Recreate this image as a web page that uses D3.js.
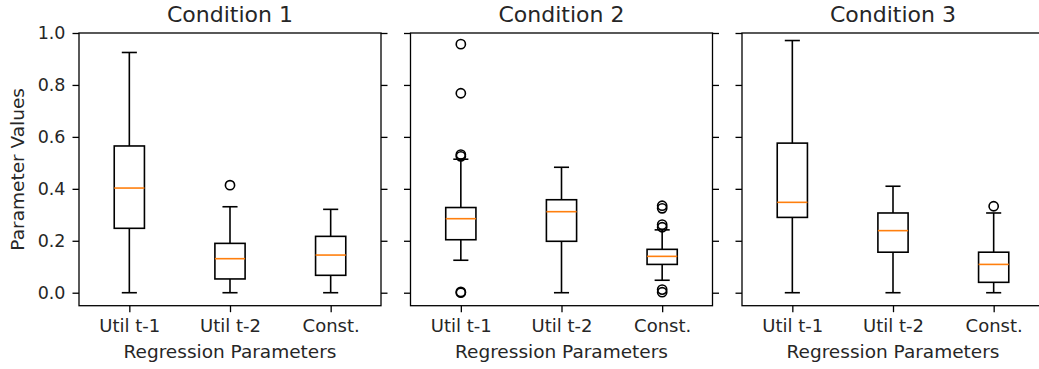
<!DOCTYPE html>
<html>
<head>
<meta charset="utf-8">
<script src="https://cdn.jsdelivr.net/npm/d3@7"></script>
<style>
  body { margin: 0; background: #fff; }
  text { font-family: "DejaVu Sans", sans-serif; fill: #262626; }
</style>
</head>
<body>
<script>
// data
var conditions = ["Condition 1", "Condition 2", "Condition 3"];
var params = ["Util t-1", "Util t-2", "Const."];
var yTicks = [0.0, 0.2, 0.4, 0.6, 0.8, 1.0];

// one row per condition, one entry per parameter
var whiskLow = [[0.0, 0.0, 0.0], [0.125, 0.0, 0.048], [0.0, 0.0, 0.0]];
var q1       = [[0.248, 0.053, 0.067], [0.204, 0.198, 0.109], [0.29, 0.156, 0.040]];
var median   = [[0.403, 0.131, 0.145], [0.285, 0.312, 0.140], [0.348, 0.239, 0.109]];
var q3       = [[0.565, 0.19, 0.217], [0.328, 0.358, 0.167], [0.576, 0.307, 0.156]];
var whiskHigh= [[0.925, 0.331, 0.321], [0.514, 0.483, 0.242], [0.971, 0.41, 0.307]];
var outliers = [
  [[], [0.414], []],
  [[0.957, 0.768, 0.532, 0.525, 0.003, 0.0], [], [0.335, 0.325, 0.262, 0.252, 0.012, 0.002]],
  [[], [], [0.333]]
];

var W = 1039, H = 369;
var chart = { left: 79, top: 33, pw: 302, ph: 272.7, gap: 29.5 };

var svg = d3.select("body")
            .append("svg")
            .attr("width", W)
            .attr("height", H);

var y = d3.scaleLinear()
          .domain([-0.05, 1.0])
          .range([chart.top + chart.ph, chart.top]);

var x = d3.scalePoint()
          .domain(params)
          .range([0, chart.pw])
          .padding(0.5);

var boxW = x.step() * 0.3;

conditions.forEach(function(cond, ci) {
  var g = svg.append("g")
             .attr("transform", "translate(" + (chart.left + ci * (chart.pw + chart.gap)) + ",0)");

  // left / right ticks
  g.append("g")
   .call(d3.axisLeft(y).tickValues(yTicks).tickSize(6.5).tickPadding(7)
          .tickFormat(ci == 0 ? d3.format(".1f") : ""))
   .call(function(a) {
     a.select(".domain").remove();
     a.selectAll("line").attr("stroke-width", 1.3);
     a.selectAll("text").style("font-size", "17.5px").attr("fill", "#262626");
   });
  g.append("g")
   .attr("transform", "translate(" + chart.pw + ",0)")
   .call(d3.axisRight(y).tickValues(yTicks).tickSize(6.5).tickFormat(""))
   .call(function(a) {
     a.select(".domain").remove();
     a.selectAll("line").attr("stroke-width", 1.3);
   });

  g.append("g")
   .attr("transform", "translate(0," + (chart.top + chart.ph) + ")")
   .call(d3.axisBottom(x).tickSize(6.5).tickPadding(7))
   .call(function(a) {
     a.select(".domain").remove();
     a.selectAll("line").attr("stroke-width", 1.3);
     a.selectAll("text").style("font-size", "18px").attr("fill", "#262626");
   });

  // frame
  g.append("rect")
   .attr("x", 0).attr("y", chart.top)
   .attr("width", chart.pw).attr("height", chart.ph)
   .attr("fill", "none")
   .attr("stroke", "black")
   .attr("stroke-width", 1.3);

  params.forEach(function(p, pi) {
    var cx = x(p);
    var b = g.append("g").attr("stroke", "black").attr("stroke-width", 1.6).attr("fill", "none");

    // whiskers
    b.append("line").attr("x1", cx).attr("x2", cx)
     .attr("y1", y(whiskLow[ci][pi])).attr("y2", y(q1[ci][pi]));
    b.append("line").attr("x1", cx).attr("x2", cx)
     .attr("y1", y(q3[ci][pi])).attr("y2", y(whiskHigh[ci][pi]));
    // caps
    [whiskLow[ci][pi], whiskHigh[ci][pi]].forEach(function(v) {
      b.append("line").attr("x1", cx - boxW / 4).attr("x2", cx + boxW / 4)
       .attr("y1", y(v)).attr("y2", y(v));
    });
    // box
    b.append("rect")
     .attr("x", cx - boxW / 2).attr("y", y(q3[ci][pi]))
     .attr("width", boxW).attr("height", y(q1[ci][pi]) - y(q3[ci][pi]));
    // median
    b.append("line").attr("x1", cx - boxW / 2).attr("x2", cx + boxW / 2)
     .attr("y1", y(median[ci][pi])).attr("y2", y(median[ci][pi]))
     .attr("stroke", "#ff7f0e");
    // fliers
    b.selectAll("circle")
     .data(outliers[ci][pi])
     .enter().append("circle")
     .attr("cx", cx).attr("cy", function(d) { return y(d); })
     .attr("r", 4.6);
  });

  g.append("text")
   .attr("x", chart.pw / 2).attr("y", 21.5)
   .attr("text-anchor", "middle")
   .style("font-size", "22px")
   .text(cond);

  g.append("text")
   .attr("x", chart.pw / 2).attr("y", 358)
   .attr("text-anchor", "middle")
   .style("font-size", "18.5px")
   .text("Regression Parameters");
});

svg.append("text")
   .attr("transform", "translate(24," + (chart.top + chart.ph / 2) + ") rotate(-90)")
   .attr("text-anchor", "middle")
   .style("font-size", "18.5px")
   .text("Parameter Values");
</script>
</body>
</html>
